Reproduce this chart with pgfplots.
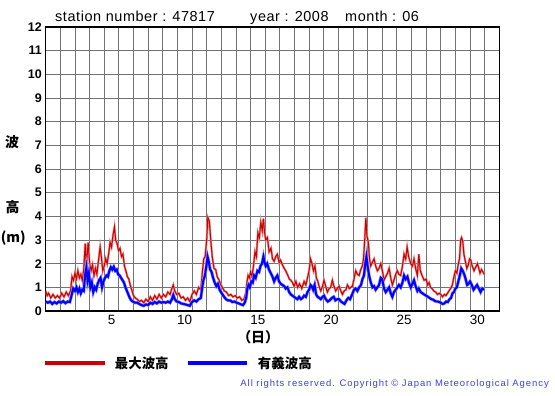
\documentclass[border=0pt]{standalone}
\usepackage{pgfplots}
\usepackage{pgfplotstable}
\pgfplotsset{compat=1.18}
\usepackage{fontspec}
\setmainfont{Liberation Sans}
\newfontfamily\jp{Noto Sans CJK JP}
\definecolor{maxred}{RGB}{204,0,0}
\definecolor{sigblue}{RGB}{0,0,255}
\definecolor{copyblue}{RGB}{60,60,255}
\pgfplotstableread{
d h
1.00 0.85
1.10 0.65
1.20 0.75
1.35 0.55
1.50 0.70
1.65 0.55
1.80 0.65
1.95 0.55
2.10 0.75
2.25 0.60
2.40 0.80
2.55 0.65
2.70 0.85
2.80 1.45
2.90 1.30
3.00 1.60
3.10 1.35
3.20 1.70
3.30 1.40
3.40 1.55
3.50 1.30
3.60 1.75
3.70 2.85
3.78 1.90
3.90 2.90
4.00 2.00
4.10 1.70
4.20 1.95
4.30 1.50
4.40 1.80
4.50 1.55
4.60 2.10
4.72 2.70
4.80 2.30
4.90 1.70
5.00 1.90
5.10 2.20
5.20 2.00
5.30 2.40
5.40 2.90
5.50 2.70
5.60 3.20
5.70 3.55
5.78 3.00
5.88 2.85
5.98 2.55
6.08 2.65
6.18 2.30
6.28 2.40
6.38 1.90
6.48 1.70
6.58 1.45
6.68 1.35
6.80 1.05
6.90 0.85
7.00 0.65
7.12 0.55
7.25 0.50
7.40 0.40
7.55 0.45
7.70 0.35
7.85 0.50
8.00 0.40
8.15 0.60
8.30 0.45
8.45 0.65
8.60 0.50
8.75 0.70
8.90 0.55
9.05 0.70
9.20 0.60
9.35 0.80
9.50 0.70
9.62 0.95
9.72 1.10
9.82 0.85
9.95 0.70
10.10 0.75
10.25 0.55
10.40 0.60
10.55 0.45
10.70 0.55
10.85 0.40
11.00 0.70
11.15 0.85
11.30 0.70
11.45 1.00
11.60 0.90
11.70 1.60
11.80 2.20
11.90 2.30
12.00 3.00
12.08 3.95
12.18 3.80
12.28 3.00
12.38 2.30
12.50 1.80
12.62 1.75
12.72 1.45
12.85 1.30
12.97 1.10
13.08 1.00
13.20 0.85
13.35 0.80
13.50 0.65
13.65 0.70
13.80 0.60
13.95 0.65
14.10 0.55
14.25 0.60
14.40 0.45
14.55 0.50
14.67 0.75
14.75 1.20
14.83 1.50
14.92 1.40
15.00 1.65
15.10 1.45
15.20 1.90
15.30 2.50
15.40 2.30
15.50 3.30
15.60 3.10
15.70 3.75
15.80 3.40
15.88 3.90
15.96 3.30
16.04 3.00
16.15 3.10
16.27 2.50
16.40 2.65
16.50 2.20
16.61 2.10
16.72 2.30
16.83 2.40
16.95 2.05
17.05 2.15
17.18 1.95
17.30 1.80
17.40 1.70
17.55 1.50
17.65 1.35
17.75 1.30
17.87 1.20
17.97 1.05
18.10 1.25
18.22 1.00
18.35 1.15
18.50 0.95
18.66 1.25
18.78 1.10
18.89 1.40
19.00 1.70
19.10 2.20
19.18 2.05
19.30 1.70
19.40 1.90
19.50 1.40
19.60 1.25
19.70 1.00
19.80 0.85
19.92 1.05
20.02 1.30
20.13 1.05
20.25 0.80
20.37 0.95
20.48 1.00
20.59 1.30
20.70 1.05
20.82 0.85
20.93 0.95
21.05 1.05
21.17 0.85
21.28 0.70
21.40 0.85
21.52 0.90
21.62 1.10
21.75 0.95
21.86 1.00
21.96 1.05
22.07 1.35
22.19 1.70
22.30 1.55
22.42 1.50
22.53 1.75
22.64 1.90
22.72 2.20
22.80 3.00
22.88 3.94
22.95 3.20
23.05 2.90
23.13 2.20
23.21 1.90
23.32 2.05
23.44 2.20
23.55 1.90
23.67 1.70
23.78 1.80
23.90 2.00
24.01 1.70
24.12 1.30
24.24 1.45
24.36 1.60
24.47 1.80
24.58 1.40
24.69 1.10
24.80 1.30
24.92 1.55
25.03 1.70
25.14 1.55
25.26 1.50
25.38 1.90
25.49 2.40
25.60 2.20
25.70 2.70
25.80 2.30
25.95 2.00
26.06 1.90
26.17 2.20
26.28 1.80
26.40 1.50
26.50 2.40
26.60 1.70
26.72 1.50
26.86 1.30
27.00 1.35
27.10 1.10
27.20 1.20
27.30 1.00
27.40 0.95
27.52 0.85
27.65 0.80
27.77 0.70
27.90 0.75
28.00 0.70
28.12 0.60
28.25 0.70
28.35 0.65
28.46 0.75
28.56 0.85
28.67 0.95
28.79 1.10
28.90 1.45
29.00 1.70
29.10 1.60
29.20 2.00
29.28 2.20
29.36 3.00
29.42 3.10
29.50 2.95
29.58 2.40
29.68 2.10
29.78 1.80
29.88 1.95
29.97 2.20
30.05 2.15
30.15 1.90
30.27 1.70
30.38 1.85
30.50 2.00
30.60 1.80
30.68 1.60
30.78 1.75
30.88 1.65
30.98 1.55
}\maxtable
\pgfplotstableread{
d h
1.00 0.40
1.15 0.35
1.30 0.40
1.45 0.30
1.60 0.38
1.75 0.32
1.90 0.40
2.05 0.35
2.20 0.42
2.35 0.33
2.50 0.40
2.65 0.38
2.78 0.70
2.88 0.95
3.00 0.85
3.10 1.00
3.20 0.80
3.30 0.95
3.40 0.75
3.50 0.90
3.60 0.85
3.70 1.55
3.78 1.85
3.86 1.30
3.95 1.60
4.05 1.00
4.15 1.20
4.25 0.80
4.35 1.00
4.45 0.90
4.55 1.15
4.65 1.30
4.75 1.40
4.85 1.00
4.95 1.25
5.05 1.40
5.15 1.50
5.25 1.45
5.35 1.70
5.45 1.85
5.55 1.75
5.65 1.87
5.75 1.70
5.85 1.75
5.95 1.55
6.05 1.50
6.15 1.40
6.25 1.30
6.35 1.20
6.45 1.00
6.55 0.85
6.65 0.70
6.75 0.55
6.85 0.45
6.95 0.40
7.10 0.35
7.25 0.35
7.40 0.30
7.55 0.25
7.70 0.22
7.85 0.28
8.00 0.25
8.15 0.35
8.30 0.30
8.45 0.38
8.60 0.32
8.75 0.40
8.90 0.35
9.05 0.38
9.20 0.35
9.35 0.40
9.50 0.35
9.62 0.50
9.72 0.68
9.82 0.50
9.95 0.40
10.10 0.38
10.25 0.32
10.40 0.30
10.55 0.28
10.70 0.25
10.85 0.22
11.00 0.38
11.15 0.45
11.30 0.40
11.45 0.50
11.60 0.55
11.70 1.00
11.78 1.30
11.88 1.50
11.98 1.90
12.06 2.30
12.14 2.10
12.24 1.75
12.34 1.65
12.44 1.40
12.55 1.20
12.66 1.05
12.77 1.15
12.88 0.90
12.98 0.80
13.08 0.70
13.20 0.60
13.32 0.50
13.45 0.45
13.60 0.45
13.75 0.38
13.90 0.40
14.05 0.35
14.20 0.32
14.35 0.28
14.48 0.25
14.60 0.35
14.70 0.55
14.78 0.95
14.86 1.10
14.95 1.00
15.05 1.25
15.15 1.20
15.24 1.50
15.35 1.40
15.47 1.70
15.58 1.65
15.68 1.90
15.78 2.00
15.88 2.30
15.96 2.05
16.04 1.90
16.14 2.00
16.26 1.75
16.38 1.60
16.50 1.45
16.61 1.25
16.72 1.40
16.83 1.50
16.95 1.25
17.06 1.15
17.18 1.10
17.30 1.05
17.40 0.95
17.52 1.00
17.64 0.80
17.75 0.70
17.86 0.65
17.97 0.60
18.08 0.55
18.20 0.50
18.32 0.60
18.44 0.50
18.55 0.55
18.66 0.65
18.78 0.60
18.89 0.80
19.00 0.90
19.10 1.10
19.18 1.05
19.28 0.90
19.38 1.10
19.48 0.70
19.58 0.60
19.70 0.55
19.80 0.50
19.92 0.60
20.02 0.65
20.14 0.50
20.28 0.40
20.40 0.45
20.55 0.55
20.68 0.60
20.80 0.45
20.92 0.50
21.05 0.50
21.18 0.40
21.30 0.35
21.42 0.30
21.55 0.45
21.68 0.55
21.80 0.50
21.94 0.70
22.07 0.90
22.18 0.95
22.30 0.85
22.42 1.00
22.55 1.10
22.65 1.35
22.75 1.50
22.84 2.00
22.92 2.30
23.00 1.90
23.10 1.50
23.22 1.20
23.33 1.00
23.44 1.05
23.55 0.90
23.67 1.00
23.78 1.10
23.90 1.40
24.00 1.35
24.12 0.95
24.24 0.80
24.36 0.90
24.47 1.00
24.58 0.75
24.69 0.60
24.80 0.80
24.92 0.90
25.03 1.00
25.14 1.10
25.26 1.00
25.38 1.20
25.49 1.50
25.60 1.35
25.72 1.45
25.82 1.20
25.95 1.00
26.06 1.15
26.17 1.30
26.28 1.05
26.40 0.85
26.50 0.95
26.62 0.80
26.75 0.75
26.86 0.70
27.00 0.65
27.12 0.60
27.24 0.55
27.36 0.50
27.48 0.48
27.60 0.42
27.77 0.40
27.90 0.38
28.00 0.35
28.12 0.30
28.24 0.32
28.36 0.40
28.48 0.38
28.60 0.50
28.70 0.55
28.80 0.75
28.90 0.80
29.00 0.95
29.10 1.00
29.20 1.25
29.30 1.50
29.40 1.80
29.50 1.70
29.60 1.55
29.70 1.35
29.80 1.10
29.90 1.15
30.00 1.25
30.12 1.10
30.24 0.90
30.36 1.00
30.48 1.10
30.60 0.95
30.72 0.80
30.84 0.95
30.96 0.90
}\sigtable
\begin{document}
\begin{tikzpicture}[x=1bp,y=1bp]
\useasboundingbox (-45.7,-84) rectangle (509.3,311);
\begin{axis}[
  at={(0,0)}, anchor=south west,
  scale only axis, width=453.6bp, height=284bp,
  xmin=1, xmax=32, ymin=0, ymax=12,
  xtick={1,...,32}, xticklabels={},
  extra x ticks={5.5,10.5,15.5,20.5,25.5,30.5},
  extra x tick labels={5,10,15,20,25,30},
  extra x tick style={grid=none},
  ytick={0,...,12},
  yticklabels={0,1,2,3,4,5,6,7,8,9,10,11,12},
  major tick length=0pt,
  grid=major,
  major grid style={black!55, line width=0.8bp},
  axis line style={black, line width=1.5bp},
  xticklabel style={font=\fontsize{13.5}{13.5}\selectfont, yshift=-1bp},
  yticklabel style={font=\bfseries\fontsize{12.5}{12.5}\selectfont, xshift=-0.5bp},
  clip=true,
]
\addplot[no marks, color=maxred!45, line width=2.2bp] table[x=d,y=h] {\maxtable};
\addplot[no marks, color=maxred, line width=1bp] table[x=d,y=h] {\maxtable};
\addplot[no marks, color=sigblue!45, line width=3.2bp] table[x=d,y=h] {\sigtable};
\addplot[no marks, color=sigblue, line width=2bp] table[x=d,y=h] {\sigtable};
\end{axis}
% title
\node[anchor=base west, inner sep=0] at (9.3,290) {\addfontfeatures{LetterSpace=4}\fontsize{14.5}{14.5}\selectfont station number : 47817};
\node[anchor=base west, inner sep=0] at (204.3,290) {\addfontfeatures{LetterSpace=4}\fontsize{14.5}{14.5}\selectfont year : 2008};
\node[anchor=base west, inner sep=0] at (299.3,290) {\addfontfeatures{LetterSpace=4}\fontsize{14.5}{14.5}\selectfont month : 06};
% y label
\node at (-33.5,169) {\jp\bfseries\fontsize{14}{14}\selectfont 波};
\node at (-33.2,104) {\jp\bfseries\fontsize{14}{14}\selectfont 高};
\node at (-32.5,73) {\jp\bfseries\fontsize{14}{14}\selectfont (m)};
% x label
\node at (212.5,-26) {\jp\bfseries\fontsize{14}{14}\selectfont （日）};
% legend
\draw[maxred, line width=4bp] (-0.7,-52) -- (59.3,-52);
\node[anchor=west, inner sep=0] at (69,-52) {\jp\bfseries\fontsize{13.5}{13.5}\selectfont 最大波高};
\draw[sigblue, line width=4bp] (142.3,-52) -- (201.3,-52);
\node[anchor=west, inner sep=0] at (212,-52) {\jp\bfseries\fontsize{13.5}{13.5}\selectfont 有義波高};
% copyright
\node[anchor=east, inner sep=0, text=copyblue] at (503.3,-73) {\addfontfeatures{LetterSpace=10}\fontsize{9.5}{9.5}\selectfont All rights reserved. Copyright \textcopyright\ Japan Meteorological Agency};
\end{tikzpicture}
\end{document}
